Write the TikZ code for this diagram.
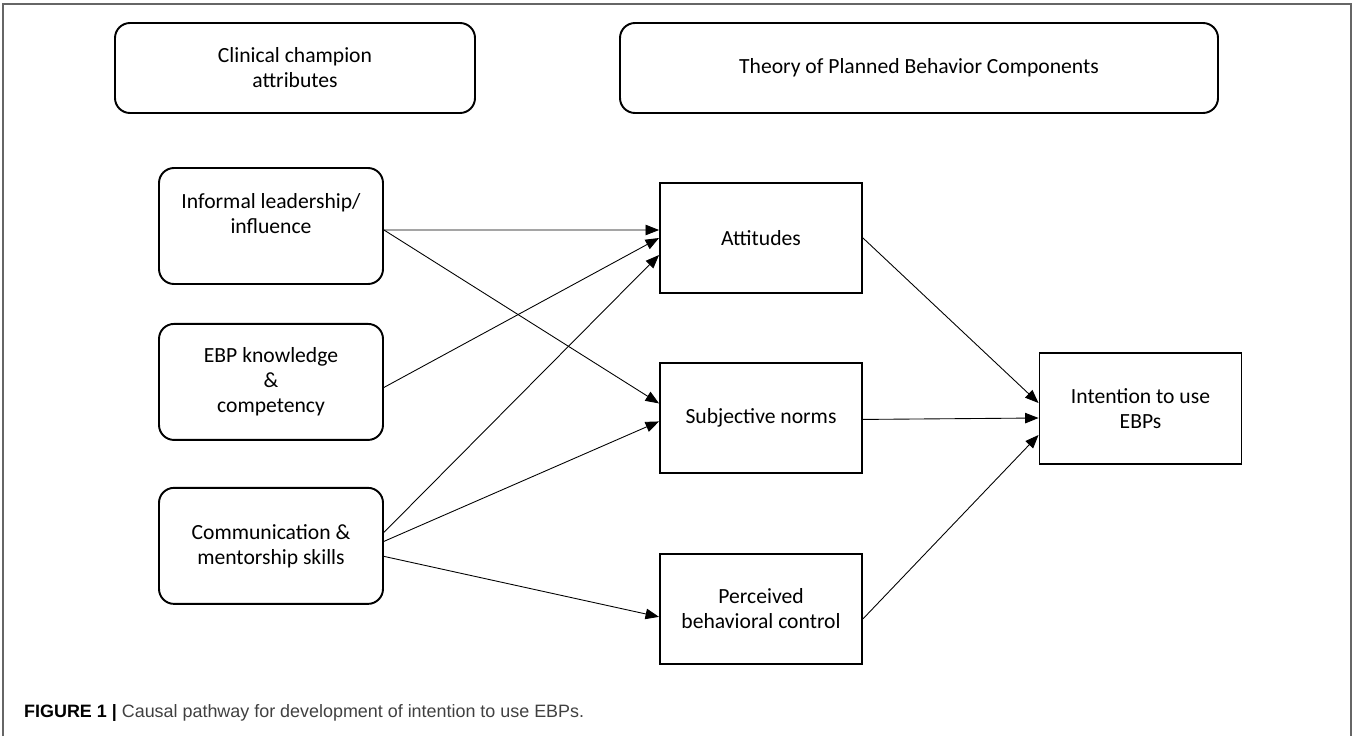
\documentclass[tikz,border=0pt]{standalone}
\usepackage{fontspec}
\setmainfont{Carlito}
\newfontfamily\figcapfont{Liberation Sans}
\usetikzlibrary{positioning, calc, arrows.meta}

\begin{document}
\begin{tikzpicture}[
            box/.style={rectangle, draw, line width=1.1pt, minimum width=4.04cm, minimum height=2.2cm, align=center, inner sep=0pt, font=\fontsize{12.3}{14.2}\selectfont},
            header/.style={box, rounded corners=0.3cm, minimum height=1.8cm},
            attr/.style={box, rounded corners=0.3cm, minimum width=4.48cm, minimum height=2.32cm},
            tpb/.style={box},
            link/.style={-{Triangle[length=0.27cm, width=0.21cm]}, line width=0.5pt},
            frame/.style={draw=black!60, line width=0.8pt}
        ]
            \useasboundingbox (0,0) rectangle (27.08,-14.72);

            % --- 1. frame and caption ---
            \draw[frame] (0.06,-14.72) |- (27.02,-0.08) -- (27.02,-14.72);
            \node[anchor=west, font=\figcapfont\fontsize{10.2}{12}\selectfont, text=black!75] (caption) at (0.36,-14.26)
              {\textcolor{black}{\textbf{FIGURE 1 |}} Causal pathway for development of intention to use EBPs.};

            % --- 2. headers ---
            \node[header, minimum width=7.2cm] (hdrChampion) at (5.90,-1.36) {Clinical champion\\attributes};
            \node[header, minimum width=11.96cm] (hdrTPB) at (18.38,-1.36) {Theory of Planned Behavior Components};

            % --- 3. champion attributes ---
            \node[attr] (leader) at (5.42,-4.52) {Informal leadership/\\influence\\\mbox{}};
            \node[attr, below=0.76cm of leader] (knowledge) {EBP knowledge\\\&\\competency};
            \node[attr, below=0.92cm of knowledge] (mentor) {Communication \&\\mentorship skills};

            % --- 4. TPB components and outcome ---
            \node[tpb] (attitudes) at (15.22,-4.76) {Attitudes};
            \node[tpb, below=1.36cm of attitudes] (norms) {Subjective norms};
            \node[tpb, below=1.58cm of norms] (control) {Perceived\\behavioral control};
            \node[tpb, minimum height=2.22cm] (intention) at (22.81,-8.17) {Intention to use\\EBPs};

            % --- 5. links ---
            \draw[link] ([yshift=-0.08cm]leader.east) -- ([yshift=0.16cm]attitudes.west);
            \draw[link] ([yshift=-0.08cm]leader.east) -- ([yshift=0.29cm]norms.west);
            \draw[link] ([yshift=-0.11cm]knowledge.east) -- (attitudes.west);
            \draw[link] ([yshift=0.27cm]mentor.east) -- ([yshift=-0.34cm]attitudes.west);
            \draw[link] ([yshift=0.09cm]mentor.east) -- ([yshift=-0.07cm]norms.west);
            \draw[link] ([yshift=-0.21cm]mentor.east) -- ([yshift=-0.16cm]control.west);
            \draw[link] (attitudes.east) -- ([yshift=0.11cm]intention.west);
            \draw[link] ([yshift=-0.03cm]norms.east) -- ([yshift=-0.19cm]intention.west);
            \draw[link] ([yshift=-0.2cm]control.east) -- ([yshift=-0.53cm]intention.west);

        \end{tikzpicture}
\end{document}
